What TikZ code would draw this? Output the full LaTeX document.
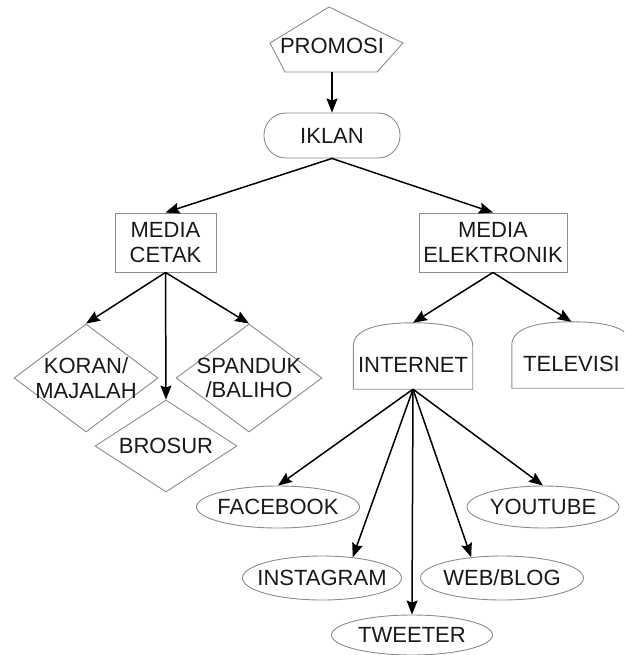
\documentclass[tikz,border=0pt]{standalone}
\usepackage{fontspec}
\setmainfont{Liberation Sans}
\usetikzlibrary{shapes.geometric,arrows.meta,calc}
\definecolor{boxgray}{RGB}{140,140,140}
\definecolor{txt}{RGB}{25,25,25}
\begin{document}
\begin{tikzpicture}[x=1pt,y=-1pt,
  font=\fontsize{22}{24.5}\selectfont,
  every node/.style={text=txt},
  plain/.style={inner sep=0pt, align=center},
  box/.style={draw=boxgray, line width=0.9pt, inner sep=0pt, align=center},
  boxline/.style={draw=boxgray, line width=0.9pt},
  dia/.style={shape=diamond, draw=boxgray, line width=0.9pt, inner sep=0pt},
  ell/.style={shape=ellipse, draw=boxgray, line width=0.9pt, inner sep=0pt},
  arr/.style={-{Stealth[length=14pt,width=11pt,inset=2pt]}, line width=1.5pt, black}
]
\useasboundingbox (0,0) rectangle (624,655);
\clip (0,0) rectangle (624,655);

% PROMOSI pentagon
\node[plain, minimum width=134, minimum height=52] (promosi) at (332,46) {PROMOSI};
\draw[boxline] ($(promosi)+(-3,-39)$) -- ($(promosi)+(71,-3)$) -- ($(promosi)+(45,26)$)
  -- ($(promosi)+(-47,26)$) -- ($(promosi)+(-62,-3)$) -- cycle;

% IKLAN
\node[box, rounded corners=22pt, minimum width=136, minimum height=45] (iklan) at (332,135.5) {IKLAN};

% Media boxes
\node[box, minimum width=101, minimum height=59] (cetak) at (165.5,242.5) {MEDIA\\CETAK};
\node[box, minimum width=148, minimum height=59] (elek) at (493,242.5) {MEDIA\\ELEKTRONIK};

% Diamonds
\node[dia, minimum width=144, minimum height=108, label={[align=center]center:KORAN/\\MAJALAH}] (koran) at (86,378) {};
\node[dia, minimum width=146, minimum height=108, label={[align=center]center:SPANDUK\\/BALIHO}] (spanduk) at (249,378) {};
\node[dia, minimum width=142, minimum height=92, label={center:BROSUR}] (brosur) at (166,446) {};

% Internet & Televisi (arched top boxes)
\node[plain, minimum width=119, minimum height=66, label={[yshift=-9pt]center:INTERNET}] (int) at (413,356) {};
\node[plain, minimum width=119, minimum height=66, label={[yshift=-9pt]center:TELEVISI}] (tv) at (571.5,355) {};
\foreach \n in {int,tv}{
  \draw[boxline] (\n.south west) -- ++(0,-43)
    .. controls +(0,-16) and +(-38,0) .. (\n.north)
    .. controls +(38,0) and +(0,-16) .. ($(\n.north east)+(0,23)$)
    -- (\n.south east) -- cycle;
}

% Ellipses
\node[ell, minimum width=163, minimum height=42, label=center:FACEBOOK] (fb) at (278,507) {};
\node[ell, minimum width=152, minimum height=42, label=center:YOUTUBE] (yt) at (543,507) {};
\node[ell, minimum width=159, minimum height=44, label=center:INSTAGRAM] (ins) at (322,578) {};
\node[ell, minimum width=163, minimum height=44, label=center:WEB/BLOG] (web) at (502,578) {};
\node[ell, minimum width=161, minimum height=40, label=center:TWEETER] (tw) at (412,635) {};

% Connectors
\draw[arr] (promosi.south) -- (iklan.north);
\draw[arr] (iklan.south) -- (cetak.north);
\draw[arr] (iklan.south) -- (elek.north);
\draw[arr] (cetak.south) -- (koran.north);
\draw[arr] (cetak.south) -- (brosur.north);
\draw[arr] (cetak.south) -- (spanduk.north);
\draw[arr] (elek.south) -- (int.north);
\draw[arr] (elek.south) -- (tv.north);
\draw[arr] (int.south) -- (fb.north);
\draw[arr] (int.south) -- (ins.34);
\draw[arr] (int.south) -- (tw.north);
\draw[arr] (int.south) -- (web.146);
\draw[arr] (int.south) -- (yt.north);
\end{tikzpicture}
\end{document}
